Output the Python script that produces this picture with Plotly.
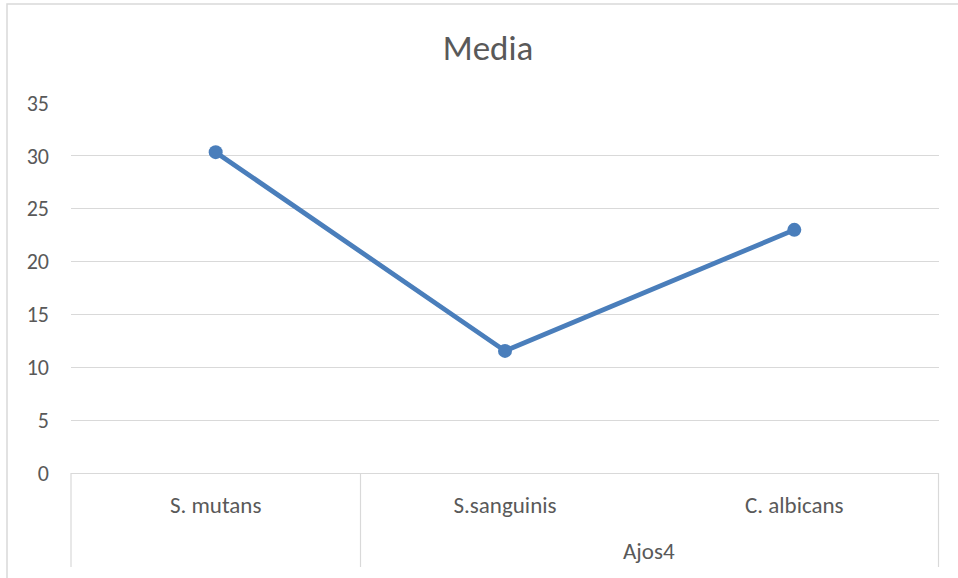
import plotly.graph_objects as go

categories = ["S. mutans", "S.sanguinis", "C. albicans"]
values = [30.35, 11.55, 23.0]
group_label = "Ajos4"
title_text = "Media"
y_ticks = [0, 5, 10, 15, 20, 25, 30, 35]

W, H = 958, 578
L, R, T, B = 71, 19, 103, 105
plot_w = W - L - R
plot_h = H - T - B

def px_x(p):
    return (p - L) / plot_w

def px_y(p):
    return (H - B - p) / plot_h

grid = "#d9d9d9"
txt = "#595959"
font_fam = "Calibri, Carlito, Lato, sans-serif"

fig = go.Figure()
fig.add_trace(go.Scatter(
    x=categories, y=values, mode="lines+markers",
    line=dict(color="#4a7ebb", width=4.8),
    marker=dict(color="#4a7ebb", size=14),
    showlegend=False, hoverinfo="skip",
))

shapes = []
# chart border (left/top visible)
shapes.append(dict(type="rect", xref="paper", yref="paper",
                   x0=px_x(7), x1=px_x(W + 20), y0=px_y(H + 20), y1=px_y(4),
                   line=dict(color=grid, width=1.5), layer="below"))
# multi-level axis dividers
for xp in [71, 360.5, 938.5]:
    shapes.append(dict(type="line", xref="paper", yref="paper",
                       x0=px_x(xp), x1=px_x(xp), y0=px_y(473), y1=px_y(567),
                       line=dict(color=grid, width=1.2)))

fig.update_layout(
    width=W, height=H,
    margin=dict(l=L, r=R, t=T, b=B),
    paper_bgcolor="white", plot_bgcolor="white",
    font=dict(family=font_fam, color=txt),
    title=dict(text=title_text, xref="container", x=488 / W, xanchor="center",
               yref="container", y=1 - 48 / H, yanchor="middle",
               font=dict(size=35, color=txt, family=font_fam)),
    xaxis=dict(type="category", showgrid=False, showline=True,
               linecolor=grid, linewidth=1.2, ticks="",
               tickfont=dict(size=23, color=txt), ticklabelstandoff=11,
               range=[-0.5, 2.5], fixedrange=True),
    yaxis=dict(range=[0, 35], tickvals=y_ticks, showgrid=True, gridcolor=grid,
               gridwidth=1.2, zeroline=False, showline=False, ticks="",
               tickfont=dict(size=22, color=txt), ticklabelstandoff=21),
    shapes=shapes,
    annotations=[dict(text=group_label, xref="paper", yref="paper",
                      x=px_x(649), y=px_y(551), xanchor="center", yanchor="middle",
                      showarrow=False, font=dict(size=23, color=txt))],
)

fig.write_html("out.html")
